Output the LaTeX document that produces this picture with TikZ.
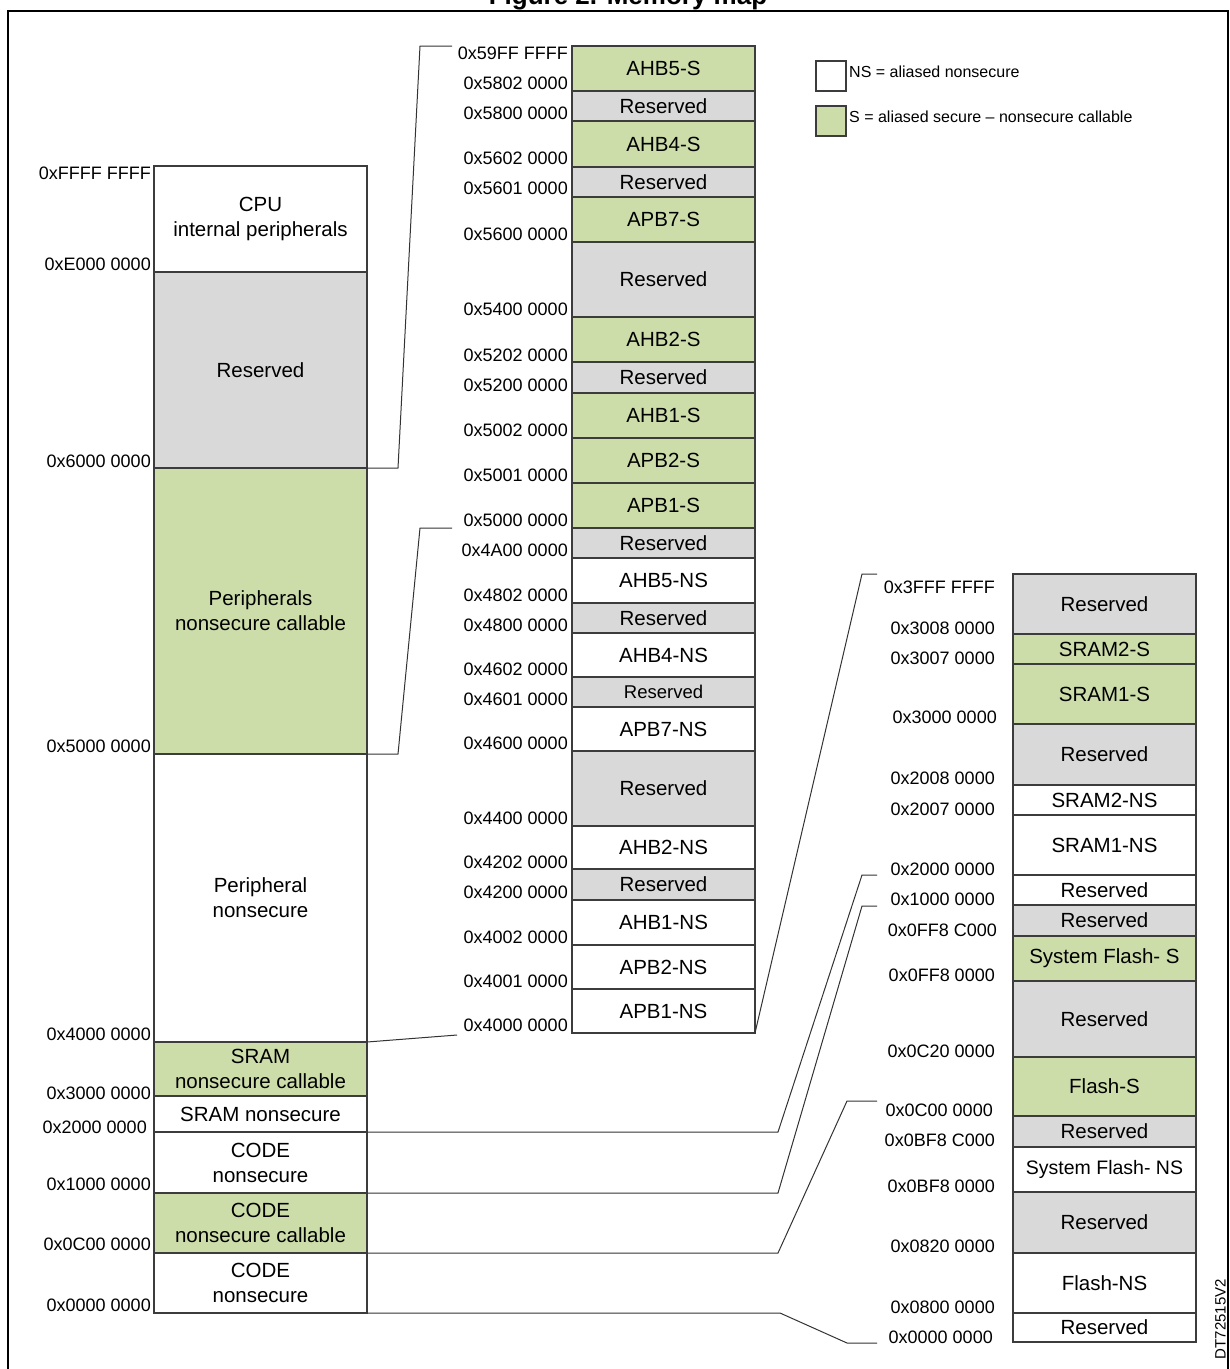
\documentclass[tikz,border=0pt]{standalone}
\usepackage{fontspec}
\setmainfont{Liberation Sans}
\definecolor{sgreen}{RGB}{205,221,170}
\definecolor{rgray}{RGB}{217,217,217}
\definecolor{edge}{RGB}{60,60,60}
\begin{document}
\begin{tikzpicture}[x=1pt,y=-1pt,
  blk/.style={draw=edge,line width=1.3pt,inner sep=0pt,outer sep=0pt,align=center,
    font=\fontsize{20.5}{25}\selectfont},
  G/.style={fill=sgreen},R/.style={fill=rgray},W/.style={fill=white},
  addr/.style={anchor=east,inner sep=0pt,font=\fontsize{18}{20}\selectfont},
  conn/.style={draw=black!80,line width=1pt}]
\useasboundingbox (0,0) rectangle (1230,1369);
\newcommand\blk[7]{\node[blk,#6,minimum width={(#3-#2)*1pt},minimum height={(#5-#4)*1pt},anchor=north west] (#1) at (#2,#4) {#7};}
\node[font=\bfseries\fontsize{26}{28}\selectfont,anchor=base] (title) at (628,4) {Figure 2. Memory map};
\draw[line width=2.5pt] (8,11) rectangle (1228,1385);
% legend
\node[blk,W,minimum width=30pt,minimum height=30pt,anchor=north west] (lg1) at (816,61) {};
\node[blk,G,minimum width=30pt,minimum height=30pt,anchor=north west] (lg2) at (816,106) {};
\node[anchor=west,inner sep=0pt,font=\fontsize{16}{18}\selectfont] (lt1) at (849,72) {NS = aliased nonsecure};
\node[anchor=west,inner sep=0pt,font=\fontsize{16}{18}\selectfont] (lt2) at (849,117) {S = aliased secure -- nonsecure callable};
% left column
\blk{L1}{154}{367}{166}{272}{W}{CPU\\internal peripherals}
\blk{L2}{154}{367}{272}{468}{R}{Reserved}
\blk{L3}{154}{367}{468}{754}{G}{Peripherals\\nonsecure callable}
\blk{L4}{154}{367}{754}{1042}{W}{Peripheral\\nonsecure}
\blk{L5}{154}{367}{1042}{1096}{G}{SRAM\\nonsecure callable}
\blk{L6}{154}{367}{1096}{1132}{W}{SRAM nonsecure}
\blk{L7}{154}{367}{1132}{1193}{W}{CODE\\nonsecure}
\blk{L8}{154}{367}{1193}{1253}{G}{CODE\\nonsecure callable}
\blk{L9}{154}{367}{1253}{1313}{W}{CODE\\nonsecure}
\node[addr] (la1) at (151,173) {0xFFFF FFFF};
\node[addr] (la2) at (151,264) {0xE000 0000};
\node[addr] (la3) at (151,461) {0x6000 0000};
\node[addr] (la4) at (151,746) {0x5000 0000};
\node[addr] (la5) at (151,1034) {0x4000 0000};
\node[addr] (la6) at (151,1093) {0x3000 0000};
\node[addr] (la7) at (147,1127) {0x2000 0000};
\node[addr] (la8) at (151,1184) {0x1000 0000};
\node[addr] (la9) at (151,1244) {0x0C00 0000};
\node[addr] (la10) at (151,1305) {0x0000 0000};
% middle column
\blk{M1}{572}{755}{46}{91}{G}{AHB5-S}
\blk{M2}{572}{755}{91}{121}{R}{Reserved}
\blk{M3}{572}{755}{121}{167}{G}{AHB4-S}
\blk{M4}{572}{755}{167}{197}{R}{Reserved}
\blk{M5}{572}{755}{197}{242}{G}{APB7-S}
\blk{M6}{572}{755}{242}{317}{R}{Reserved}
\blk{M7}{572}{755}{317}{362}{G}{AHB2-S}
\blk{M8}{572}{755}{362}{393}{R}{Reserved}
\blk{M9}{572}{755}{393}{438}{G}{AHB1-S}
\blk{M10}{572}{755}{438}{483}{G}{APB2-S}
\blk{M11}{572}{755}{483}{528}{G}{APB1-S}
\blk{M12}{572}{755}{528}{558}{R}{Reserved}
\blk{M13}{572}{755}{558}{603}{W}{AHB5-NS}
\blk{M14}{572}{755}{603}{633}{R}{Reserved}
\blk{M15}{572}{755}{633}{677}{W}{AHB4-NS}
\blk{M16}{572}{755}{677}{707}{R,font=\fontsize{18.5}{20}\selectfont}{Reserved}
\blk{M17}{572}{755}{707}{751}{W}{APB7-NS}
\blk{M18}{572}{755}{751}{826}{R}{Reserved}
\blk{M19}{572}{755}{826}{869}{W}{AHB2-NS}
\blk{M20}{572}{755}{869}{900}{R}{Reserved}
\blk{M21}{572}{755}{900}{945}{W}{AHB1-NS}
\blk{M22}{572}{755}{945}{989}{W}{APB2-NS}
\blk{M23}{572}{755}{989}{1033}{W}{APB1-NS}
\node[addr] (ma1) at (568,53) {0x59FF FFFF};
\node[addr] (ma2) at (568,83) {0x5802 0000};
\node[addr] (ma3) at (568,113) {0x5800 0000};
\node[addr] (ma4) at (568,158) {0x5602 0000};
\node[addr] (ma5) at (568,188) {0x5601 0000};
\node[addr] (ma6) at (568,234) {0x5600 0000};
\node[addr] (ma7) at (568,309) {0x5400 0000};
\node[addr] (ma8) at (568,355) {0x5202 0000};
\node[addr] (ma9) at (568,385) {0x5200 0000};
\node[addr] (ma10) at (568,430) {0x5002 0000};
\node[addr] (ma11) at (568,475) {0x5001 0000};
\node[addr] (ma12) at (568,520) {0x5000 0000};
\node[addr] (ma13) at (568,550) {0x4A00 0000};
\node[addr] (ma14) at (568,595) {0x4802 0000};
\node[addr] (ma15) at (568,625) {0x4800 0000};
\node[addr] (ma16) at (568,669) {0x4602 0000};
\node[addr] (ma17) at (568,699) {0x4601 0000};
\node[addr] (ma18) at (568,743) {0x4600 0000};
\node[addr] (ma19) at (568,818) {0x4400 0000};
\node[addr] (ma20) at (568,862) {0x4202 0000};
\node[addr] (ma21) at (568,892) {0x4200 0000};
\node[addr] (ma22) at (568,937) {0x4002 0000};
\node[addr] (ma23) at (568,981) {0x4001 0000};
\node[addr] (ma24) at (568,1025) {0x4000 0000};
% right column
\blk{R1}{1013}{1196}{574}{634}{R}{Reserved}
\blk{R2}{1013}{1196}{634}{664}{G}{SRAM2-S}
\blk{R3}{1013}{1196}{664}{724}{G}{SRAM1-S}
\blk{R4}{1013}{1196}{724}{785}{R}{Reserved}
\blk{R5}{1013}{1196}{785}{815}{W}{SRAM2-NS}
\blk{R6}{1013}{1196}{815}{875}{W}{SRAM1-NS}
\blk{R7}{1013}{1196}{875}{905}{W}{Reserved}
\blk{R8}{1013}{1196}{905}{936}{R}{Reserved}
\blk{R9}{1013}{1196}{936}{981}{G}{System Flash- S}
\blk{R10}{1013}{1196}{981}{1057}{R}{Reserved}
\blk{R11}{1013}{1196}{1057}{1116}{G}{Flash-S}
\blk{R12}{1013}{1196}{1116}{1147}{R}{Reserved}
\blk{R13}{1013}{1196}{1147}{1192}{W,font=\fontsize{19.5}{22}\selectfont}{System Flash- NS}
\blk{R14}{1013}{1196}{1192}{1253}{R}{Reserved}
\blk{R15}{1013}{1196}{1253}{1313}{W}{Flash-NS}
\blk{R16}{1013}{1196}{1313}{1342}{W}{Reserved}
\node[addr] (ra1) at (995,587) {0x3FFF FFFF};
\node[addr] (ra2) at (995,628) {0x3008 0000};
\node[addr] (ra3) at (995,658) {0x3007 0000};
\node[addr] (ra4) at (997,717) {0x3000 0000};
\node[addr] (ra5) at (995,778) {0x2008 0000};
\node[addr] (ra6) at (995,809) {0x2007 0000};
\node[addr] (ra7) at (995,869) {0x2000 0000};
\node[addr] (ra8) at (995,899) {0x1000 0000};
\node[addr] (ra9) at (997,930) {0x0FF8 C000};
\node[addr] (ra10) at (995,975) {0x0FF8 0000};
\node[addr] (ra11) at (995,1051) {0x0C20 0000};
\node[addr] (ra12) at (993,1110) {0x0C00 0000};
\node[addr] (ra13) at (995,1140) {0x0BF8 C000};
\node[addr] (ra14) at (995,1186) {0x0BF8 0000};
\node[addr] (ra15) at (995,1246) {0x0820 0000};
\node[addr] (ra16) at (995,1307) {0x0800 0000};
\node[addr] (ra17) at (993,1337) {0x0000 0000};
\node[rotate=90,anchor=south,inner sep=0pt,font=\fontsize{15}{16}\selectfont] (dt) at (1226,1319) {DT72515V2};
% connectors
\coordinate (c1) at (452,46); \coordinate (c2) at (452,528); \coordinate (c3) at (457,1035);
\coordinate (c4) at (877,574); \coordinate (c5) at (877,875); \coordinate (c6) at (877,906);
\coordinate (c7) at (877,1101); \coordinate (c8) at (877,1343);
\draw[conn] (L2.south east) -- (398,468) -- (420,46) -- (c1);
\draw[conn] (L3.south east) -- (398,754) -- (420,528) -- (c2);
\draw[conn] (L4.south east) -- (c3);
\draw[conn] (M23.south east) -- (862,574) -- (c4);
\draw[conn] (L6.south east) -- (778,1132) -- (862,875) -- (c5);
\draw[conn] (L7.south east) -- (778,1193) -- (862,906) -- (c6);
\draw[conn] (L8.south east) -- (778,1253) -- (847,1101) -- (c7);
\draw[conn] (L9.south east) -- (780,1313) -- (847,1343) -- (c8);
\end{tikzpicture}
\end{document}
